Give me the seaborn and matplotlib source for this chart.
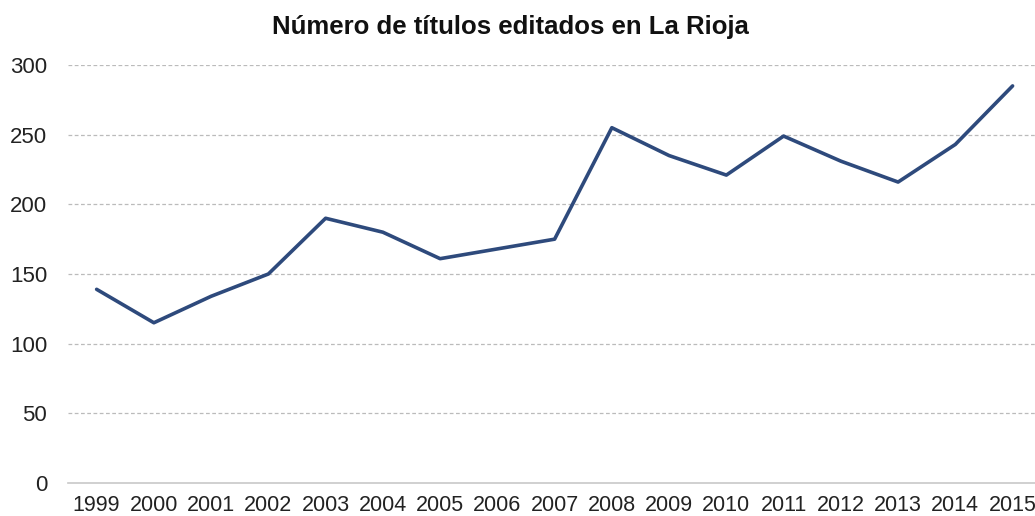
import numpy as np
import pandas as pd
import matplotlib.pyplot as plt
import seaborn as sns
from matplotlib.ticker import FixedLocator

anios = ["1999", "2000", "2001", "2002", "2003", "2004", "2005", "2006", "2007",
         "2008", "2009", "2010", "2011", "2012", "2013", "2014", "2015"]
titulos = [139, 115, 134, 150, 190, 180, 161, 168, 175,
           255, 235, 221, 249, 231, 216, 243, 285]

df = pd.DataFrame({"Año": anios, "Títulos": titulos})

sns.set_style("white")
plt.rcParams["font.family"] = ["Liberation Sans", "DejaVu Sans"]

fig = plt.figure(figsize=(10.35, 5.16), dpi=100)
ax = fig.add_axes([0.0657, 0.064, 0.9403, 0.810])

sns.lineplot(data=df, x="Año", y="Títulos", ax=ax, color="#2E4A7C", linewidth=2.6, sort=False)

ax.set_xlim(-0.5, len(anios) - 0.5)
ax.set_ylim(0, 300)
ax.set_yticks(range(0, 301, 50))
ax.set_xlabel("")
ax.set_ylabel("")

for y in range(50, 301, 50):
    ax.axhline(y, color="#BBBBBB", linestyle=(0, (3, 2)), linewidth=0.9, zorder=0)

for s in ["top", "right", "left"]:
    ax.spines[s].set_visible(False)
ax.spines["bottom"].set_color("#C8C8C8")
ax.spines["bottom"].set_linewidth(1.2)

ax.xaxis.set_minor_locator(FixedLocator(np.arange(-0.5, len(anios), 1)))
ax.tick_params(axis="x", which="major", length=0, labelsize=15.5, pad=9, labelcolor="#222222")
ax.tick_params(axis="x", which="minor", length=6, width=1.2, color="#C8C8C8", direction="out")
ax.tick_params(axis="y", length=0, labelsize=16, pad=15, labelcolor="#222222")

fig.text(0.493, 0.948, "Número de títulos editados en La Rioja", ha="center", va="center",
         fontsize=18.5, fontweight="bold", color="#111111")

plt.savefig("out.png", dpi=100)
